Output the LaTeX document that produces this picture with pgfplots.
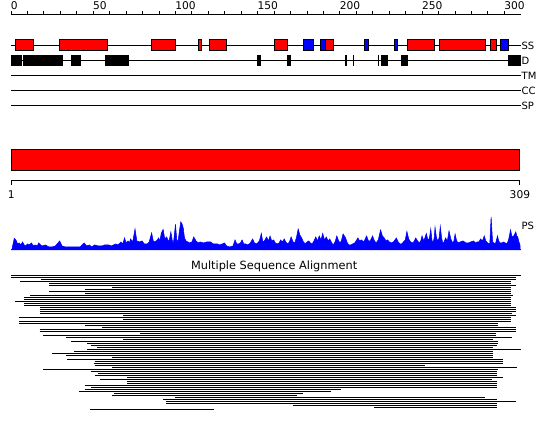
\documentclass[border=0pt]{standalone}
\usepackage{fontspec}
\setmainfont{DejaVu Sans}
\usepackage{pgfplots}
\usepackage{pgfplotstable}
\pgfplotsset{compat=1.18}
\definecolor{ssred}{RGB}{255,0,0}
\definecolor{ssblue}{RGB}{0,0,255}

% PS profile: residue, height (px above baseline)
\pgfplotstableread{
u h
0.5 0
1 4
2 11.6
3 10
4 6
5 7
6 5
7 8
8 5
9 4
10 6
11 5
12.5 7
13.5 4
14.6 5
16 4
16.8 7
18 5
19 4
21 5
23 3
25 3
27 4
29.6 9
31 4
33 3
36 3
39 3
42 3
44.5 7
46 4
47.7 5
49 3
50.9 5
53 4
55.2 4
57 5
59.4 5
61 4
63.7 6
65 5
66.9 8
68 6
69 12
70 7
71.2 9
72 7
72.7 11
74 8
75.4 21
76.5 9
78 8
79.7 9
81 6
82.9 6
84 8
85.5 17
86.5 9
87.5 8
89 10
89.7 12
90.5 9
91.4 17
92.5 20.5
93.5 11
94.6 13
96 8
97.2 18
98 10
98.7 6
100 25.5
100.8 10
101.5 8
102.5 20
103.2 28
104 26
104.7 22
105.5 12
106.4 9
107.5 8
108.5 7
110 8
111.1 13
112.5 9
113.8 7
115 8
117 7
119 8
121.3 8
123 6
125.6 6
127 5
129.8 7
131 4
133 3
135 4
136.2 10
137.3 6
138.3 6
139.5 7
140.5 10
141.5 6
142.6 6
144 5
145.5 7
146.9 11
148 7
149.4 6
151 9
152.2 16.5
153 9
153.7 8
155.4 13
156.5 9
157.5 14
158.5 9
159.7 10
160.7 7
161.8 6
163 7
163.9 10
165 8
166.1 11
167 8
168.2 6
169.3 8
170.3 13
171.5 8
172.5 7
173.5 12
174.6 21
175.6 15
176.7 12
177.8 8
178.9 6
180 8
181 9
182 7
183.1 6
184.2 9
185.3 13
186.3 9
187.4 14
188.5 10
189.5 16.5
190.6 10
191.7 13
192.8 9
193.8 11
195 7
195.9 5
197 8
198.1 14
199.2 9
200.2 7
201 10
201.9 16
202.7 14
203.4 12
204.5 7
205.5 5
206.6 5
207.7 6
209 7
210.9 12
212 9
213 10
214.5 8
216.2 14
217.3 9
218.3 9
219 11
219.8 14
221 9
222 7
223.3 10
224.7 20
225.8 14
226.9 12
228 9
229 10
230 8
231.1 7
232.5 8
234.3 12
235.4 8
236.5 6
237.5 6
238.6 8
239.7 10
240.7 18.5
241.8 11
242.9 8
244.5 7
246.1 12
247.2 9
248.2 7
249.1 9
249.9 14
251 9
252.5 16.5
253.3 11
254 10
254.6 14
255.2 21
256 9
256.7 8
257.3 12
257.8 22.7
258.7 12
259.5 9
260.3 12
261 23.5
261.8 12
262.5 7
263.3 8
264.2 12
265.3 9
266.3 19
267.4 11
268.5 7
269.3 9
270 16
270.8 10
271.7 7
273 8
274.9 9
276.5 7
278.1 7
279.5 8
281.3 9
282.3 7
283.4 8
284.5 8
285.5 11
286.6 9
287.7 14
288.7 9
289.8 7
291.1 6
291.9 33
292.8 8
294.5 6
295.8 14
296.5 9
297.3 7
298.5 7
299.4 8
300.5 7
301.5 6
302.5 10
303.7 20
304.5 14
305.2 13
306 15
306.9 18
307.5 14
308.1 13
308.8 8
309.4 6
309.6 0
}\pstable

% Multiple sequence alignment rows: start, end, row height
\pgfplotstableread{
x y
0 155.5
309.8 155.5
nan nan
0 153.5
306.8 153.5
nan nan
18.4 151.5
306.8 151.5
nan nan
5.3 149.5
303.8 149.5
nan nan
23.1 147.5
303.8 147.5
nan nan
23.1 145.5
306.8 145.5
nan nan
61.6 143.5
303.8 143.5
nan nan
45.2 141.5
303.8 141.5
nan nan
23.1 139.5
303.8 139.5
nan nan
45.2 137.5
303.8 137.5
nan nan
11.4 135.5
305.4 135.5
nan nan
7.9 133.5
303.8 133.5
nan nan
7.9 131.5
303.8 131.5
nan nan
2.2 129.5
303.8 129.5
nan nan
7.9 127.5
303.8 127.5
nan nan
7.9 125.5
303.8 125.5
nan nan
17.4 123.5
306.8 123.5
nan nan
17.4 121.5
306.8 121.5
nan nan
17.4 119.5
306.8 119.5
nan nan
17.4 117.5
304.8 117.5
nan nan
68.1 115.5
306.8 115.5
nan nan
4.7 113.5
303.8 113.5
nan nan
68.1 111.5
303.8 111.5
nan nan
4.7 109.5
303.8 109.5
nan nan
4.7 107.5
296.2 107.5
nan nan
45.2 105.5
296.2 105.5
nan nan
55.5 103.5
306.8 103.5
nan nan
17.4 101.5
306.8 101.5
nan nan
17.4 99.5
306.8 99.5
nan nan
78.6 97.5
294.8 97.5
nan nan
19.5 95.5
294.8 95.5
nan nan
33.6 93.5
304.4 93.5
nan nan
68.1 91.5
293.2 91.5
nan nan
36.7 89.5
296.2 89.5
nan nan
46.4 87.5
296.2 87.5
nan nan
48.4 85.5
295.2 85.5
nan nan
52.5 83.5
293.2 83.5
nan nan
46.4 81.5
309.8 81.5
nan nan
38.3 79.5
293.2 79.5
nan nan
25.1 77.5
293.2 77.5
nan nan
33.6 75.5
293.2 75.5
nan nan
61.6 73.5
293.2 73.5
nan nan
34.2 71.5
299.3 71.5
nan nan
50.9 69.5
299.3 69.5
nan nan
50.5 67.5
299.3 67.5
nan nan
50.9 65.5
251.7 65.5
nan nan
61.6 63.5
307.5 63.5
nan nan
19.5 61.5
296.2 61.5
nan nan
48.4 59.5
295.2 59.5
nan nan
52.9 57.5
295.2 57.5
nan nan
50.9 55.5
295.2 55.5
nan nan
70.7 53.5
299.3 53.5
nan nan
53.9 51.5
292.2 51.5
nan nan
70.7 49.5
295.2 49.5
nan nan
70.7 47.5
295.2 47.5
nan nan
45.2 45.5
295.2 45.5
nan nan
48.4 43.5
295.2 43.5
nan nan
44.8 41.5
200.4 41.5
nan nan
41.3 39.5
194.3 39.5
nan nan
62.6 37.5
177.7 37.5
nan nan
61.6 35.5
173.7 35.5
nan nan
99.5 33.5
288.1 33.5
nan nan
92.6 31.5
295.2 31.5
nan nan
94.4 29.5
306.8 29.5
nan nan
94.4 27.5
295.2 27.5
nan nan
171.2 25.5
295.2 25.5
nan nan
220.9 23.5
295.2 23.5
nan nan
48.0 21.5
123.4 21.5
}\msatable

\begin{document}
\begin{tikzpicture}
\begin{axis}[
  width=382.5pt, height=312pt, scale only axis,
  xmin=0, xmax=310, ymin=0, ymax=416,
  clip=false, enlargelimits=false,
  axis x line=top, axis y line=none,
  x axis line style={-, line width=0.75pt, black},
  xtick={0,50,...,300},
  minor x tick num=4,
  tick align=outside,
  major tick length=2.7pt, minor tick length=2.7pt,
  tick style={black, line width=0.75pt},
  /pgf/number format/assume math mode=true,
  xticklabel style={anchor=south west, inner sep=0pt, xshift=-0.3pt, yshift=1pt, font=\fontsize{8}{9.6}\selectfont},
  no markers,
  every axis plot/.append style={line width=0.75pt},
]
% bounding frame of the picture (invisible)
\path (axis cs:-6.69,0) rectangle (axis cs:327.7,431);

% track lines
\addplot[black] coordinates {(0,385.5) (309.8,385.5)};
\addplot[black] coordinates {(0,370.5) (309.8,370.5)};
\addplot[black] coordinates {(0,355.5) (309.8,355.5)};
\addplot[black] coordinates {(0,340.5) (309.8,340.5)};
\addplot[black] coordinates {(0,325.5) (309.8,325.5)};

% SS: helices (red)
\addplot[fill=ssred, draw=black] coordinates {(3,380)(13.6,380)(13.6,391)(3,391)} --cycle;
\addplot[fill=ssred, draw=black] coordinates {(29.4,380)(58.5,380)(58.5,391)(29.4,391)} --cycle;
\addplot[fill=ssred, draw=black] coordinates {(85.3,380)(99.9,380)(99.9,391)(85.3,391)} --cycle;
\addplot[fill=ssred, draw=black] coordinates {(113.9,380)(115.7,380)(115.7,391)(113.9,391)} --cycle;
\addplot[fill=ssred, draw=black] coordinates {(120.5,380)(131.1,380)(131.1,391)(120.5,391)} --cycle;
\addplot[fill=ssred, draw=black] coordinates {(160.3,380)(168.0,380)(168.0,391)(160.3,391)} --cycle;
\addplot[fill=ssred, draw=black] coordinates {(191.1,380)(195.9,380)(195.9,391)(191.1,391)} --cycle;
\addplot[fill=ssred, draw=black] coordinates {(241.2,380)(257.3,380)(257.3,391)(241.2,391)} --cycle;
\addplot[fill=ssred, draw=black] coordinates {(260.4,380)(288.3,380)(288.3,391)(260.4,391)} --cycle;
\addplot[fill=ssred, draw=black] coordinates {(291.4,380)(295.0,380)(295.0,391)(291.4,391)} --cycle;
% SS: strands (blue)
\addplot[fill=ssblue, draw=black] coordinates {(177.7,380)(183.8,380)(183.8,391)(177.7,391)} --cycle;
\addplot[fill=ssblue, draw=black] coordinates {(188.0,380)(191.1,380)(191.1,391)(188.0,391)} --cycle;
\addplot[fill=ssblue, draw=black] coordinates {(215.0,380)(217.4,380)(217.4,391)(215.0,391)} --cycle;
\addplot[fill=ssblue, draw=black] coordinates {(233.0,380)(235.1,380)(235.1,391)(233.0,391)} --cycle;
\addplot[fill=ssblue, draw=black] coordinates {(297.4,380)(302.3,380)(302.3,391)(297.4,391)} --cycle;

% D: disorder (black)
\addplot[fill=black, draw=none] coordinates {(0,365)(6.5,365)(6.5,376)(0,376)} --cycle;
\addplot[fill=black, draw=none] coordinates {(7.1,365)(31.4,365)(31.4,376)(7.1,376)} --cycle;
\addplot[fill=black, draw=none] coordinates {(36.5,365)(42.4,365)(42.4,376)(36.5,376)} --cycle;
\addplot[fill=black, draw=none] coordinates {(57.1,365)(71.6,365)(71.6,376)(57.1,376)} --cycle;
\addplot[fill=black, draw=none] coordinates {(149.7,365)(151.8,365)(151.8,376)(149.7,376)} --cycle;
\addplot[fill=black, draw=none] coordinates {(168.0,365)(170.0,365)(170.0,376)(168.0,376)} --cycle;
\addplot[fill=black, draw=none] coordinates {(203.2,365)(204.2,365)(204.2,376)(203.2,376)} --cycle;
\addplot[fill=black, draw=none] coordinates {(207.8,365)(208.8,365)(208.8,376)(207.8,376)} --cycle;
\addplot[fill=black, draw=none] coordinates {(223.0,365)(224.0,365)(224.0,376)(223.0,376)} --cycle;
\addplot[fill=black, draw=none] coordinates {(224.9,365)(229.0,365)(229.0,376)(224.9,376)} --cycle;
\addplot[fill=black, draw=none] coordinates {(237.1,365)(241.2,365)(241.2,376)(237.1,376)} --cycle;
\addplot[fill=black, draw=none] coordinates {(302.3,365)(309.8,365)(309.8,376)(302.3,376)} --cycle;

% track labels
\begin{scope}[every node/.style={anchor=west, inner sep=0pt, font=\fontsize{7.5}{9}\selectfont}]
\node at (axis cs:310.3,385.5) {SS};
\node at (axis cs:310.3,370.5) {D};
\node at (axis cs:310.3,355.5) {TM};
\node at (axis cs:310.3,340.5) {CC};
\node at (axis cs:310.3,325.5) {SP};
\node at (axis cs:310.3,205) {PS};
\end{scope}

% full-length domain bar
\addplot[fill=ssred, draw=black] coordinates {(0,260.3)(309.4,260.3)(309.4,281)(0,281)} --cycle;
% lower ruler
\addplot[black] coordinates {(0,246) (0,250) (309.4,250) (309.4,246)};
\node[font=\fontsize{8}{9.6}\selectfont, inner sep=0pt] at (axis cs:0.1,236) {1};
\node[font=\fontsize{8}{9.6}\selectfont, inner sep=0pt] at (axis cs:309.4,236) {309};

% PS profile
\addplot[fill=ssblue, draw=ssblue, line width=0.4pt] table[x=u, y expr=\thisrow{h}+181] {\pstable} --cycle;
\addplot[ssblue] coordinates {(0,181) (309.8,181)};

% MSA
\node[font=\fontsize{8.5}{10}\selectfont, anchor=base, inner sep=0pt] at (axis cs:160,161) {Multiple Sequence Alignment};
\addplot[black, line width=0.85pt, unbounded coords=jump] table[x=x, y=y] {\msatable};
\end{axis}
\end{tikzpicture}
\end{document}
